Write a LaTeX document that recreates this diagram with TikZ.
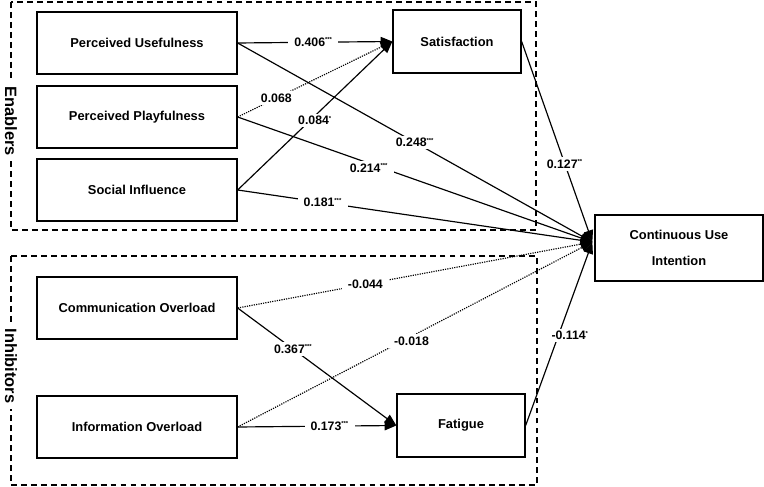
\documentclass[tikz,border=0pt]{standalone}
\usepackage{fontspec}
\setmainfont{Liberation Sans}
\usetikzlibrary{arrows.meta, calc}

\tikzset{
  construct/.style={draw, line width=1.1pt, font=\bfseries\fontsize{11}{13}\selectfont, align=center, inner sep=0pt},
  widebox/.style={construct, minimum width=6cm, minimum height=1.86cm},
  smallbox/.style={construct, minimum width=3.84cm, minimum height=1.89cm},
  path-lbl/.style={fill=white, font=\bfseries\fontsize{10.5}{12}\selectfont, inner xsep=5pt, inner ysep=2pt},
  group-box/.style={draw, line width=1pt, dash pattern=on 5pt off 3.5pt},
  group-lbl/.style={fill=white, rotate=-90, font=\bfseries\fontsize{14}{16}\selectfont, inner sep=5pt},
  sig/.style={-{Triangle[length=10pt,width=8pt]}, line width=1pt},
  nonsig/.style={sig, densely dotted},
}
\newcommand{\stars}[1]{\textsuperscript{\fontsize{5}{5}\selectfont#1}}

\begin{document}
\begin{tikzpicture}[x=0.03cm, y=-0.03cm]
  \useasboundingbox (0,0) rectangle (764,487);

  % Groups
  \draw[group-box] (11,2) rectangle (536,230);
  \draw[group-box] (11,256) rectangle (537,485);
  \node[group-lbl] (enablers) at (11,121) {Enablers};
  \node[group-lbl] (inhibitors) at (11,366) {Inhibitors};

  % Constructs
  \node[widebox] (pu) at (137,43) {Perceived Usefulness};
  \node[widebox] (pp) at (137,117) {Perceived Playfulness};
  \node[widebox] (si) at (137,190) {Social Influence};
  \node[widebox] (co) at (137,308) {Communication Overload};
  \node[widebox] (io) at (137,427) {Information Overload};
  \node[smallbox] (sat) at (457,41.5) {Satisfaction};
  \node[smallbox] (fat) at (461,425.5) {Fatigue};
  \node[construct, minimum width=5.04cm, minimum height=1.98cm] (cui) at (679,248) {Continuous Use\\[9pt]Intention};
  \coordinate (cuiin) at ($(cui.west)+(-2,-6)$);

  % Paths to satisfaction
  \draw[sig] (pu.east) -- node[path-lbl, pos=0.49] (l406) {0.406\stars{***}} (sat.west);
  \draw[nonsig] (pp.east) -- node[path-lbl, pos=0.25] (l068) {0.068} (sat.west);
  \draw[sig] (si.east) -- node[path-lbl, pos=0.5, yshift=-4pt] (l084) {0.084\stars{*}} (sat.west);

  % Paths to continuous use intention
  \draw[sig] (pu.east) -- node[path-lbl, pos=0.5] (l248) {0.248\stars{***}} (cuiin);
  \draw[sig] (pp.east) -- node[path-lbl, pos=0.37, yshift=-4pt] (l214) {0.214\stars{***}} (cuiin);
  \draw[sig] (si.east) -- node[path-lbl, pos=0.24] (l181) {0.181\stars{***}} (cuiin);
  \draw[sig] (sat.east) -- node[path-lbl, pos=0.61] (l127) {0.127\stars{**}} (cuiin);
  \draw[nonsig] (co.east) -- node[path-lbl, pos=0.36] (l044) {-0.044} (cuiin);
  \draw[nonsig] (io.east) -- node[path-lbl, pos=0.49, yshift=-4pt] (l018) {-0.018} (cuiin);
  \draw[sig] (fat.east) -- node[path-lbl, pos=0.49, xshift=10pt] (l114) {-0.114\stars{*}} (cuiin);

  % Paths to fatigue
  \draw[sig] (co.east) -- node[path-lbl, pos=0.35] (l367) {0.367\stars{***}} (fat.west);
  \draw[sig] (io.east) -- node[path-lbl, pos=0.58] (l173) {0.173\stars{***}} (fat.west);
\end{tikzpicture}
\end{document}
